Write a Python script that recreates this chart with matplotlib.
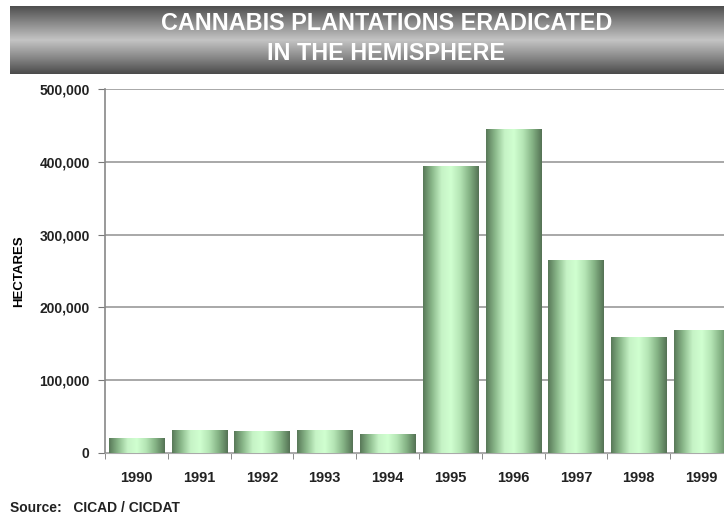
import numpy as np
import matplotlib
matplotlib.use('Agg')
from matplotlib import pyplot as plt
from matplotlib.colors import LinearSegmentedColormap

years = ['1990', '1991', '1992', '1993', '1994', '1995', '1996', '1997', '1998', '1999']
hectares = [19600, 31500, 29500, 31000, 26000, 394000, 445000, 265000, 159000, 168000]
yticks = [0, 100000, 200000, 300000, 400000, 500000]
title = 'CANNABIS PLANTATIONS ERADICATED\nIN THE HEMISPHERE'
source = 'Source:   CICAD / CICDAT'

plt.rcParams['font.family'] = ['Liberation Sans', 'DejaVu Sans']
plt.rcParams['font.weight'] = 'bold'

fig = plt.figure(figsize=(7.24, 5.17), dpi=100)
W, H = 724, 517

# title banner with grey gradient
bax = fig.add_axes([10 / W, 1 - 74 / H, 1 - 10 / W, 68 / H])
grey = LinearSegmentedColormap.from_list('grey', ['#4e4e4e', '#8a8a8a', '#c4c4c4', '#8a8a8a', '#4a4a4a'])
bax.imshow(np.linspace(0, 1, 256).reshape(-1, 1), aspect='auto', cmap=grey,
           extent=[0, 1, 0, 1], origin='upper')
bax.set_xlim(0, 1)
bax.set_ylim(0, 1)
bax.axis('off')
bax.text(0.527, 0.52, title, ha='center', va='center', color='white',
         fontsize=16.8, fontweight='bold', linespacing=1.35,
         transform=bax.transAxes)

# main axes; right edge runs a little past the figure like the original
left, right = 105, 733
top, bottom = 89, 453
ax = fig.add_axes([left / W, 1 - bottom / H, (right - left) / W, (bottom - top) / H])

x = np.arange(len(years))
bars = ax.bar(x, hectares, width=0.88, color='none', edgecolor='none', zorder=3)

green = LinearSegmentedColormap.from_list('green', ['#587858', '#8cba8c', '#c6f3c6', '#d0ffd0',
                                                     '#b4e4b4', '#84b284', '#547254'])
grad = np.linspace(0, 1, 256).reshape(1, -1)
for b in bars:
    x0 = b.get_x()
    w = b.get_width()
    h = b.get_height()
    ax.imshow(grad, aspect='auto', cmap=green, extent=[x0, x0 + w, 0, h],
              zorder=3, interpolation='bilinear')

ax.set_xlim(-0.5, len(years) - 0.5)
ax.set_ylim(0, 500000)
ax.set_yticks(yticks)
ax.set_yticklabels(['{:,}'.format(v) for v in yticks], fontsize=10, fontweight='bold', color='#222222')
ax.yaxis.grid(True, color='#999999', linewidth=1.2, zorder=0)
ax.set_axisbelow(True)

ax.set_xticks(x)
ax.set_xticklabels(years, fontsize=10.5, fontweight='bold', color='#222222')
ax.tick_params(axis='x', length=0, pad=13)
ax.set_xticks(np.arange(len(years) + 1) - 0.5, minor=True)
ax.tick_params(axis='x', which='minor', length=4, color='#777777', direction='out')
ax.tick_params(axis='y', length=5, color='#777777', direction='out', pad=6)

for s in ['top', 'right']:
    ax.spines[s].set_visible(False)
ax.spines['left'].set_color('#888888')
ax.spines['bottom'].set_color('#aaaaaa')
ax.spines['left'].set_linewidth(1.2)

ax.set_ylabel('HECTARES', fontsize=9.5, fontweight='bold')
ax.yaxis.set_label_coords(-80 / (right - left), 0.5)

fig.text(10 / W, 1 - 508 / H, source, fontsize=10, fontweight='bold', color='#222222',
         va='center', ha='left')

fig.savefig('out.png', dpi=100)
